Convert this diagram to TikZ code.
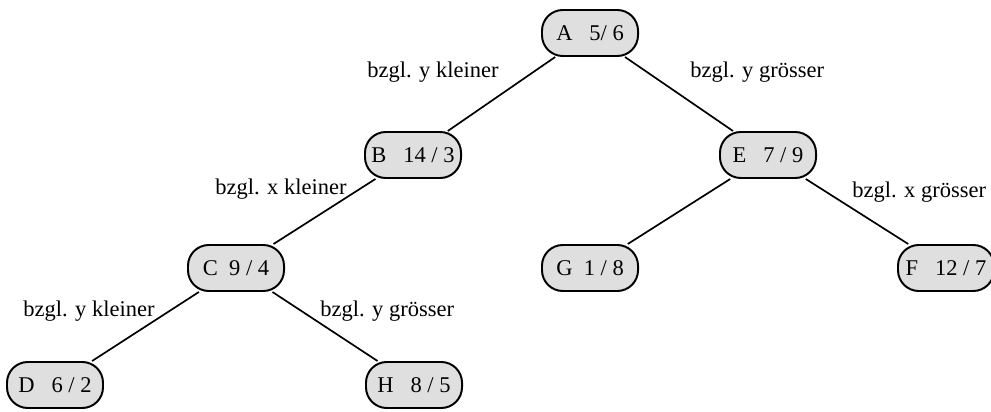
\documentclass[tikz,border=0pt]{standalone}
\usepackage{fontspec}
\setmainfont{Liberation Serif}
\usetikzlibrary{positioning}
\tikzset{
  knoten/.style={draw,line width=1.4pt,rounded corners=0.52cm,fill=gray!25,
    minimum width=2.4cm,minimum height=1.15cm,inner sep=2pt,font=\fontsize{16}{18}\selectfont},
  kante/.style={line width=1.2pt},
  lbl/.style={inner sep=0pt,anchor=base west,font=\fontsize{16}{18}\selectfont}
}
\begin{document}
\begin{tikzpicture}[x=0.025cm,y=-0.025cm]
  \useasboundingbox (0,0) rectangle (991,412);
  \node[knoten] (A) at (590,33)  {A\ \ \ 5/ 6};
  \node[knoten] (B) at (413,155) {B\ \ \ 14 / 3};
  \node[knoten] (E) at (768,155) {E\ \ \ 7 / 9};
  \node[knoten] (C) at (236,268) {C\ \ 9 / 4};
  \node[knoten] (G) at (590,268) {G\ \ 1 / 8};
  \node[knoten] (F) at (946,268) {F\ \ \ 12 / 7};
  \node[knoten] (D) at (55,385)  {D\ \ \ 6 / 2};
  \node[knoten] (H) at (414,385) {H\ \ \ 8 / 5};

  \draw[kante] (A) -- (B);
  \draw[kante] (A) -- (E);
  \draw[kante] (B) -- (C);
  \draw[kante] (E) -- (G);
  \draw[kante] (E) -- (F);
  \draw[kante] (C) -- (D);
  \draw[kante] (C) -- (H);

  \node[lbl] (lab) at (367,78)  {bzgl. y kleiner};
  \node[lbl] (lae) at (690,78)  {bzgl. y grösser};
  \node[lbl] (lbc) at (215,195) {bzgl. x kleiner};
  \node[lbl] (lef) at (852,198) {bzgl. x grösser};
  \node[lbl] (lcd) at (23,316)  {bzgl. y kleiner};
  \node[lbl] (lch) at (320,316) {bzgl. y grösser};
\end{tikzpicture}
\end{document}
